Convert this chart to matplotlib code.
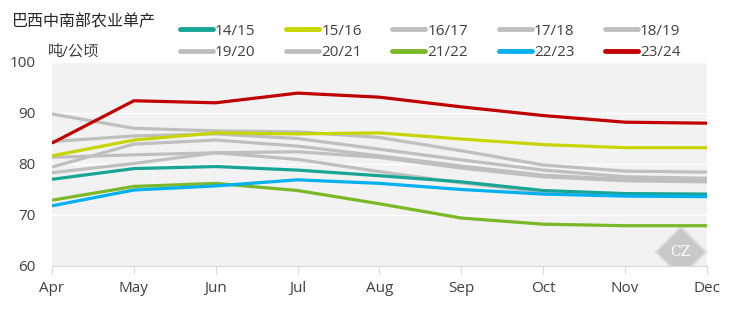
import matplotlib.pyplot as plt

months = ["Apr", "May", "Jun", "Jul", "Aug", "Sep", "Oct", "Nov", "Dec"]
seasons = ["14/15", "15/16", "16/17", "17/18", "18/19",
           "19/20", "20/21", "21/22", "22/23", "23/24"]

y1415 = [77.0, 79.1, 79.5, 78.8, 77.7, 76.5, 74.8, 74.2, 74.1]
y1516 = [81.6, 84.7, 86.1, 85.9, 86.1, 84.9, 83.8, 83.2, 83.2]
y1617 = [89.8, 87.0, 86.5, 86.3, 85.2, 82.6, 79.8, 78.6, 78.4]
y1718 = [84.4, 85.5, 85.9, 85.0, 82.9, 80.8, 78.8, 77.5, 77.2]
y1819 = [79.4, 83.9, 84.7, 83.5, 81.6, 79.6, 77.8, 77.0, 76.8]
y1920 = [81.3, 81.8, 82.2, 82.4, 81.3, 79.2, 77.5, 76.7, 76.5]
y2021 = [78.3, 80.1, 82.2, 80.9, 78.5, 76.3, 74.5, 74.0, 73.8]
y2122 = [72.9, 75.6, 76.2, 74.8, 72.2, 69.4, 68.2, 67.9, 67.9]
y2223 = [71.8, 74.9, 75.7, 76.9, 76.2, 75.0, 74.1, 73.7, 73.6]
y2324 = [84.1, 92.4, 92.0, 93.9, 93.1, 91.2, 89.5, 88.2, 88.0]

series = [y1415, y1516, y1617, y1718, y1819, y1920, y2021, y2122, y2223, y2324]
colors = ["#17a596", "#c8d400", "#bfbfbf", "#bfbfbf", "#bfbfbf",
          "#bfbfbf", "#bfbfbf", "#7ab828", "#00b0f0", "#c00000"]
# greys underneath, highlighted seasons on top
zorder = [3, 3, 2, 2, 2, 2, 2, 3, 3, 4]

plt.rcParams["font.family"] = ["Open Sans", "Noto Sans CJK SC", "DejaVu Sans"]
txt = "#404040"

fig = plt.figure(figsize=(7.31, 3.21), dpi=100)
ax = fig.add_axes([52 / 731, 55 / 321, 655 / 731, 204 / 321])
ax.set_facecolor("#f2f2f2")

x = list(range(len(months)))
lines = {}
for name, ys, c, z in zip(seasons, series, colors, zorder):
    lines[name], = ax.plot(x, ys, color=c, lw=2.3, zorder=z, label=name,
                           solid_capstyle="butt")

ax.set_xlim(0, len(months) - 1)
ax.set_ylim(60, 100)
ax.set_yticks([60, 70, 80, 90, 100])
ax.set_xticks(x)
ax.set_xticklabels(months)
ax.grid(axis="y", color="white", lw=1)
ax.set_axisbelow(True)
for s in ["top", "right", "left"]:
    ax.spines[s].set_visible(False)
ax.spines["bottom"].set_color("#d9d9d9")
ax.tick_params(axis="x", length=6, color="#d9d9d9", labelsize=11,
               labelcolor=txt, pad=5)
ax.tick_params(axis="y", length=0, labelsize=11, labelcolor=txt, pad=12)

fig.text(12 / 731, 1 - 22 / 321, "巴西中南部农业单产", fontsize=11.5,
         color="#262626", va="center", ha="left")
fig.text(48 / 731, 1 - 52 / 321, "吨/公顷", fontsize=11,
         color=txt, va="center", ha="left")

# legend: 2 rows x 5 columns, filled column-wise
order = []
for i in range(5):
    order += [seasons[i], seasons[i + 5]]
leg = fig.legend([lines[n] for n in order], order, ncol=5,
                 loc="center left", bbox_to_anchor=(180 / 731, 1 - 42 / 321),
                 frameon=False, fontsize=11, handlelength=2.15,
                 handletextpad=0.15, columnspacing=2.0, labelspacing=0.45,
                 borderaxespad=0, borderpad=0)
for t in leg.get_texts():
    t.set_color(txt)
for h in leg.legend_handles:
    h.set_linewidth(3.5)
    h.set_solid_capstyle("round")

# watermark
ax.plot([0.960], [0.069], marker="D", ms=25, color="#c8c8c8",
        mec="#dcdcdc", mew=1.5, transform=ax.transAxes, zorder=1)
ax.text(0.960, 0.069, "CZ", transform=ax.transAxes, color="white",
        fontsize=10, ha="center", va="center", zorder=1, family="serif")

fig.savefig("out.png", dpi=100)
